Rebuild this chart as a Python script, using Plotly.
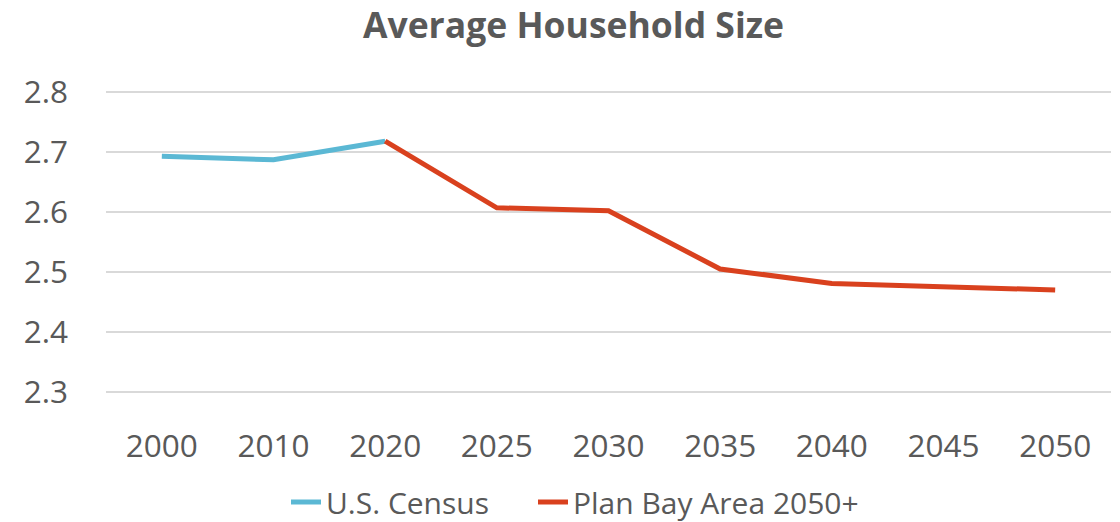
import plotly.graph_objects as go

years = ["2000", "2010", "2020", "2025", "2030", "2035", "2040", "2045", "2050"]
census_years = ["2000", "2010", "2020"]
census_values = [2.693, 2.687, 2.718]
plan_years = ["2020", "2025", "2030", "2035", "2040", "2045", "2050"]
plan_values = [2.718, 2.607, 2.602, 2.505, 2.481, 2.475, 2.470]
series_names = ["U.S. Census", "Plan Bay Area 2050+"]

FONT = "Open Sans, Noto Sans, sans-serif"
GRAY = "#595959"
GAP = "\u00a0" * 5

fig = go.Figure()
fig.add_trace(go.Scatter(x=census_years, y=census_values, mode="lines", name=series_names[0] + GAP,
                         line=dict(color="#5BB8D4", width=5)))
fig.add_trace(go.Scatter(x=plan_years, y=plan_values, mode="lines", name=series_names[1],
                         line=dict(color="#D9411E", width=5)))

fig.update_layout(
    width=1120, height=522,
    paper_bgcolor="white", plot_bgcolor="white",
    margin=dict(l=106, r=9, t=86, b=124, autoexpand=False),
    font=dict(family=FONT, color=GRAY, size=31),
    title=dict(text="<b>Average Household Size</b>", x=573.5 / 1120, xanchor="center",
               yref="container", y=1 - 26 / 522, yanchor="middle",
               font=dict(family=FONT, size=35.5, color=GRAY)),
    xaxis=dict(type="category", categoryorder="array", categoryarray=years,
               showgrid=False, showline=False, ticks="", tickfont=dict(size=31.5, color=GRAY),
               range=[-0.5, 8.5], ticklabelstandoff=26, automargin=False),
    yaxis=dict(range=[2.29, 2.81], tickvals=[2.3, 2.4, 2.5, 2.6, 2.7, 2.8],
               tickformat=".1f", showgrid=True,
               gridcolor="#D9D9D9", gridwidth=1.5, zeroline=False, showline=False,
               ticks="", tickfont=dict(size=31.5, color=GRAY), ticklabelstandoff=37,
               automargin=False),
    legend=dict(orientation="h", x=575 / 1120, xanchor="center", xref="container",
                yref="container", y=1 - 502 / 522, yanchor="middle",
                font=dict(size=30, color=GRAY), traceorder="normal"),
    showlegend=True,
)

fig.write_html("out.html", config={"displayModeBar": False},
               post_script="document.body.style.margin='0';")
